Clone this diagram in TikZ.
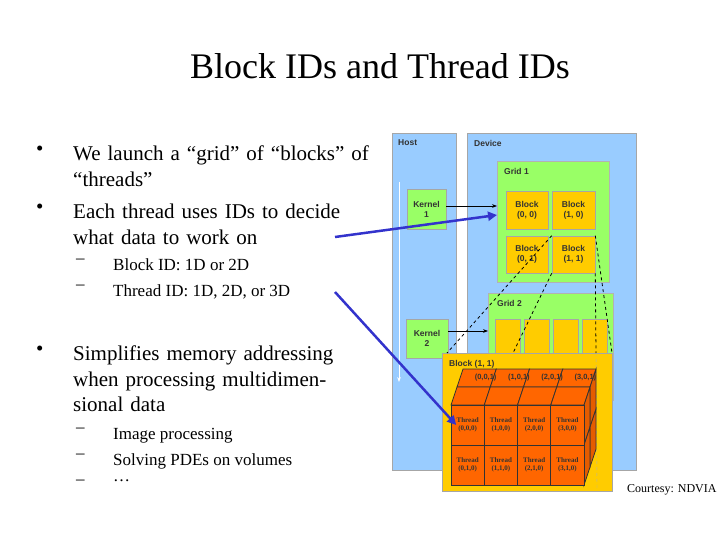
\documentclass[tikz,border=0pt]{standalone}
\usepackage{fontspec}
\setmainfont{Liberation Serif}
\newfontfamily\dsans{Liberation Sans}
\usetikzlibrary{arrows.meta}
\definecolor{hostblue}{HTML}{99CCFF}
\definecolor{gridgreen}{HTML}{99FF66}
\definecolor{blockyel}{HTML}{FFCC00}
\definecolor{thrord}{HTML}{FF6600}
\definecolor{pointer}{HTML}{3333CC}
\begin{document}
\begin{tikzpicture}[x=1pt,y=-1pt,
  panel/.style={draw=gray!70, fill=hostblue, line width=0.8pt},
  grid/.style={draw=gray!60, fill=gridgreen, line width=0.8pt},
  blk/.style={draw=gray!70, fill=blockyel, line width=0.6pt, align=center,
    font=\dsans\bfseries\fontsize{8.5}{10}\selectfont, text=black!80},
  kern/.style={draw=gray!70, fill=gridgreen, line width=0.6pt, align=center,
    font=\dsans\bfseries\fontsize{8.5}{10}\selectfont, text=black!80},
  lbl/.style={anchor=north west, font=\dsans\bfseries\fontsize{8.5}{10}\selectfont, text=black!80, inner sep=0pt},
  thr/.style={font=\fontsize{7}{8}\selectfont\bfseries, align=center, text=black!80, inner sep=0pt},
  txt/.style={anchor=north west, align=left, inner sep=0pt, text width=#1},
  blue arrow/.style={draw=pointer, line width=2.5pt, -{Triangle[length=9pt,width=9pt]}}]
\useasboundingbox (0,0) rectangle (720,540);

% title
\node (title) at (380,66) {\fontsize{36}{40}\selectfont Block IDs and Thread IDs};

% bullet text
\begin{scope}[font=\fontsize{21}{25.5}\selectfont]
\node[anchor=north west, inner sep=0pt] (b1) at (36,146) {\textbullet};
\node[txt=300pt] (t1) at (73,146) {We launch a “grid” of “blocks” of “threads”};
\node[anchor=north west, inner sep=0pt] (b2) at (36,204) {\textbullet};
\node[txt=300pt] (t2) at (73,204) {Each thread uses IDs to decide what data to work on};
\node[anchor=north west, inner sep=0pt] (b3) at (36,346) {\textbullet};
\node[txt=290pt] (t3) at (73,346) {Simplifies memory addressing when processing multidimensional data};
\end{scope}
\begin{scope}[font=\fontsize{17}{26}\selectfont]
\node[anchor=north west, inner sep=0pt] (d1) at (76,259) {–};
\node[anchor=north west, inner sep=0pt] (s1) at (113,259) {Block ID: 1D or 2D};
\node[anchor=north west, inner sep=0pt] (d2) at (76,285) {–};
\node[anchor=north west, inner sep=0pt] (s2) at (113,285) {Thread ID: 1D, 2D, or 3D};
\node[anchor=north west, inner sep=0pt] (d3) at (76,428) {–};
\node[anchor=north west, inner sep=0pt] (s3) at (113,428) {Image processing};
\node[anchor=north west, inner sep=0pt] (d4) at (76,454) {–};
\node[anchor=north west, inner sep=0pt] (s4) at (113,454) {Solving PDEs on volumes};
\node[anchor=north west, inner sep=0pt] (d5) at (76,480) {–};
\node[anchor=north west, inner sep=0pt] (s5) at (113,480) {…};
\end{scope}

% host and device
\draw[panel] (392,133) rectangle (456,470);
\node[lbl] (host) at (398,139) {Host};
\draw[white, line width=1pt, -{Stealth[length=5pt]}] (399,182) -- (399,382);
\draw[panel] (467,133) rectangle (636,470);
\node[lbl] (device) at (474,140) {Device};

% kernels
\node[kern, minimum width=39pt, minimum height=40pt] (k1) at (426.5,209) {Kernel\\1};
\node[kern, minimum width=42pt, minimum height=39pt] (k2) at (427,338.5) {Kernel\\2};

% grid 1
\draw[grid] (497,161) rectangle (609,282);
\coordinate (g1w) at (497,206);
\node[lbl] (grid1) at (504,168) {Grid 1};
\node[blk, minimum width=42pt, minimum height=38pt] (b00) at (527,210) {Block\\(0, 0)};
\node[blk, minimum width=43pt, minimum height=38pt] (b10) at (573.5,210) {Block\\(1, 0)};
\node[blk, minimum width=42pt, minimum height=37pt] (b01) at (527,254.5) {Block\\(0, 1)};
\node[blk, minimum width=43pt, minimum height=37pt] (b11) at (573.5,254.5) {Block\\(1, 1)};

% grid 2
\draw[grid] (488,293) rectangle (613,400);
\coordinate (g2w) at (488,331);
\node[lbl] (grid2) at (497,300) {Grid 2};
\foreach \x in {495,524,553,582}
  \draw[draw=gray!70, fill=blockyel] (\x,319) rectangle (\x+25,360);

\draw[-{Stealth[length=5pt]}, thick] (k1.east |- g1w) -- (g1w);
\draw[-{Stealth[length=5pt]}, thick] (k2.east |- g2w) -- (g2w);

% block (1,1) expanded
\draw[draw=gray!70, fill=blockyel, line width=0.8pt] (442,353) rectangle (612,491);
\node[lbl] (bigblock) at (449,360) {Block (1, 1)};
\draw[dashed, thick] (b11.north west) -- (447,353);
\draw[dashed, thick] (b11.south west) -- (513,353);
\draw[dashed, thick] (b11.north east) -- (612,353);
\draw[dashed, thick] (b11.south east) -- (596,353);
\draw[dashed, gray!60] (596,353) -- (597,489);

% thread cube: front 4x2 cells, depth offset (12,-36) in two layers
\def\cw{33.25}
\def\ch{40}
\begin{scope}[draw=black!80, fill=thrord, line width=0.8pt]
% top faces
\foreach \i in {0,...,3}{
  \foreach \k in {1,0}{
    \filldraw[fill=thrord] ({451+\i*\cw+6*(\k+1)},{405-18*(\k+1)}) -- ({451+(\i+1)*\cw+6*(\k+1)},{405-18*(\k+1)})
      -- ({451+(\i+1)*\cw+6*\k},{405-18*\k}) -- ({451+\i*\cw+6*\k},{405-18*\k}) -- cycle;
  }
}
% right faces
\foreach \j in {0,1}{
  \foreach \k in {1,0}{
    \filldraw[fill=thrord!90!black] ({584+6*\k},{405+\j*\ch-18*\k}) -- ({584+6*(\k+1)},{405+\j*\ch-18*(\k+1)})
      -- ({584+6*(\k+1)},{405+(\j+1)*\ch-18*(\k+1)}) -- ({584+6*\k},{405+(\j+1)*\ch-18*\k}) -- cycle;
  }
}
% front faces
\foreach \i in {0,...,3}{
  \foreach \j in {0,1}{
    \filldraw[fill=thrord] ({451+\i*\cw},{405+\j*\ch}) rectangle ({451+(\i+1)*\cw},{405+(\j+1)*\ch});
    \node[thr] (t\i\j) at ({451+(\i+0.5)*\cw},{405+(\j+0.5)*\ch}) {Thread\\(\i,\j,0)};
  }
}
\end{scope}
\foreach \i in {0,...,3}
  \node[thr, font=\dsans\bfseries\fontsize{7.5}{8}\selectfont] (z\i) at ({451+(\i+0.5)*\cw+18},378) {(\i,0,1)};

% pointer arrows
\coordinate (p1) at (335,237);
\coordinate (p2) at (335,292);
\draw[blue arrow] (p1) -- (g1w |- 0,215);
\draw[blue arrow] (p2) -- (t00.west);

\node[anchor=west, inner sep=0pt, font=\fontsize{12}{14}\selectfont] (credit) at (627,490) {Courtesy: NDVIA};
\end{tikzpicture}
\end{document}
